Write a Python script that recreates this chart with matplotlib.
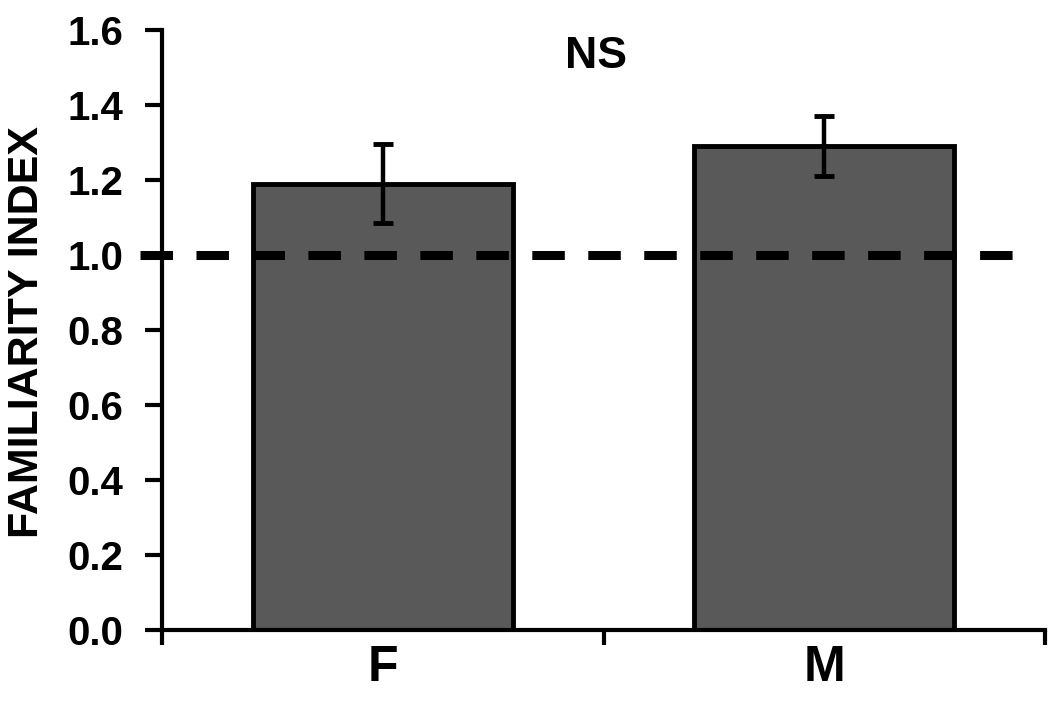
import matplotlib

matplotlib.use("Agg")
import matplotlib.pyplot as plt
from matplotlib.ticker import FixedLocator

plt.rcParams["font.family"] = ["Liberation Sans", "DejaVu Sans"]
plt.rcParams["font.weight"] = "bold"

groups = ["F", "M"]
means = [1.19, 1.29]
errors = [0.105, 0.08]
y_ticks = [0.0, 0.2, 0.4, 0.6, 0.8, 1.0, 1.2, 1.4, 1.6]
reference_level = 1.0

fig = plt.figure(figsize=(10.5, 7.06), dpi=100)
ax = fig.add_axes([162 / 1050, 1 - 630 / 706, (1045 - 162) / 1050, 600 / 706])

xs = list(range(len(groups)))
ax.bar(xs, means, width=0.59, color="#595959", edgecolor="black", linewidth=3.5, zorder=2)
ax.errorbar(xs, means, yerr=errors, fmt="none", ecolor="black", elinewidth=3.2,
            capsize=7.5, capthick=3.5, zorder=3)

# dashed reference line at 1.0, reaching a little past the y axis on the left
ax.plot([-0.55, 1.43], [reference_level, reference_level], color="black", lw=6.5,
        dashes=(3.6, 2.6), solid_capstyle="butt", dash_capstyle="butt",
        clip_on=False, zorder=4)

ax.text(0.484, 1.53, "NS", fontsize=32, fontweight="bold", ha="center", va="center")

ax.set_xlim(-0.5, 1.5)
ax.set_ylim(0, 1.6)
ax.set_yticks(y_ticks)
ax.set_yticklabels([f"{v:.1f}" for v in y_ticks])

# boundary ticks as majors, category labels on invisible minor ticks
ax.xaxis.set_major_locator(FixedLocator([-0.5, 0.5, 1.5]))
ax.xaxis.set_major_formatter(plt.NullFormatter())
ax.xaxis.set_minor_locator(FixedLocator(xs))
ax.set_xticklabels(groups, minor=True)
ax.tick_params(axis="x", which="major", direction="out", length=11, width=3)
ax.tick_params(axis="x", which="minor", length=0, pad=11, labelsize=36)
ax.tick_params(axis="y", direction="out", length=12, width=3, pad=16, labelsize=29)

for side in ("top", "right"):
    ax.spines[side].set_visible(False)
for side in ("left", "bottom"):
    ax.spines[side].set_linewidth(3)

ax.set_ylabel("FAMILIARITY INDEX", fontsize=31, fontweight="bold")
ax.yaxis.set_label_coords(-0.13, 0.497)

fig.savefig("out.png", dpi=100)
